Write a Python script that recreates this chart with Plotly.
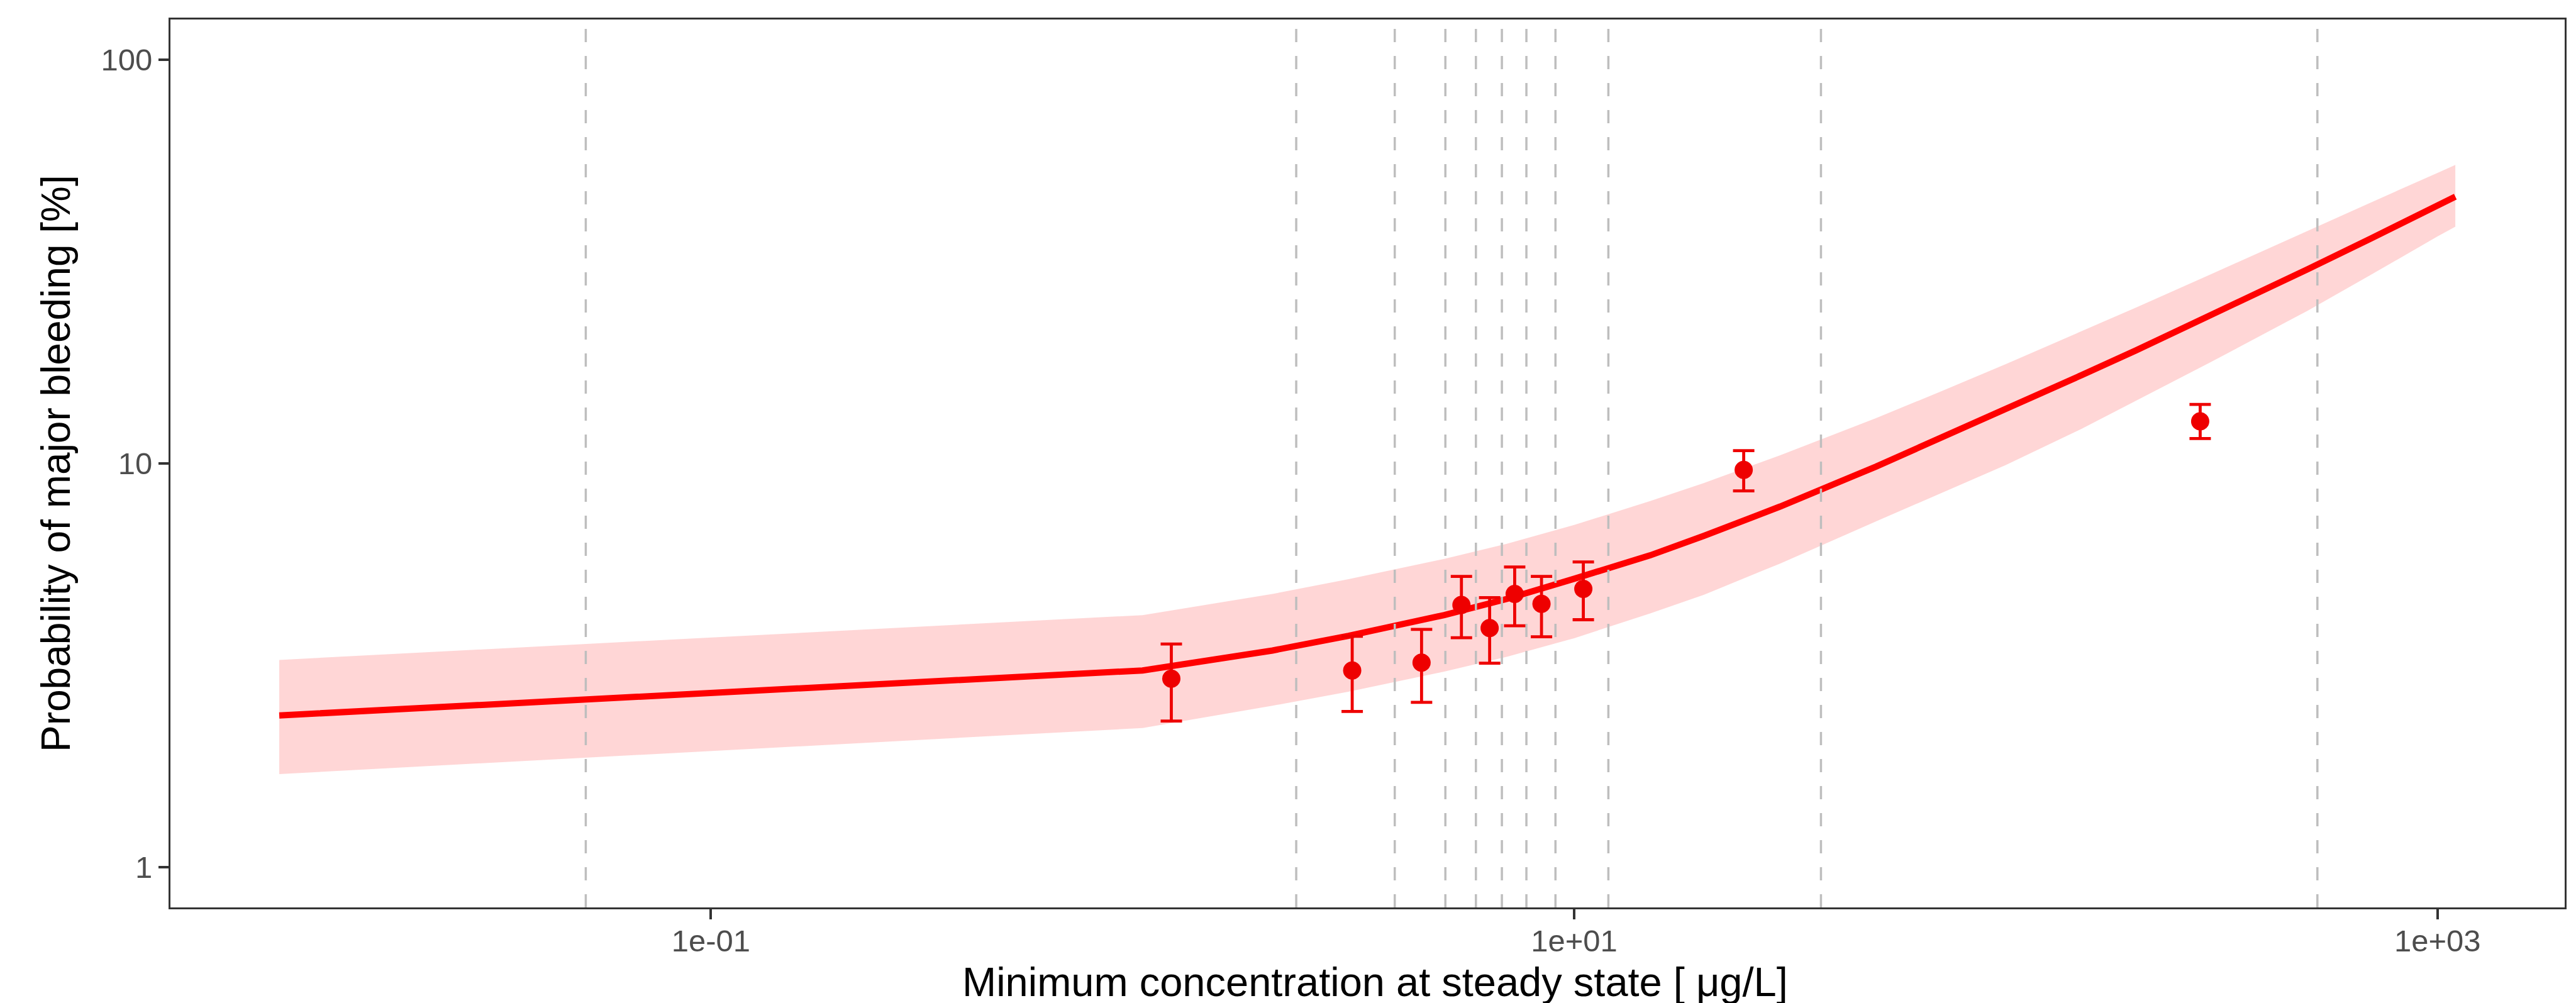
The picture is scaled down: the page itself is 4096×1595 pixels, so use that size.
import plotly.graph_objects as go

# ---- data ----
conc_grid = [0.01, 1, 2, 3, 5, 7, 10, 15, 20, 30, 50, 70, 100, 150, 200, 300, 500, 700, 1000, 1100]
pred_median = [2.375, 3.07, 3.44, 3.74, 4.21, 4.62, 5.18, 5.92, 6.62, 7.82, 9.82, 11.5, 13.63, 16.56, 19.05, 23.33, 30.27, 36.06, 43.55, 45.8]
pred_upper = [3.26, 4.21, 4.75, 5.17, 5.80, 6.33, 7.04, 8.07, 8.95, 10.48, 12.95, 15.01, 17.63, 21.25, 24.33, 29.49, 37.71, 44.3, 52.48, 54.9]
pred_lower = [1.70, 2.21, 2.51, 2.72, 3.05, 3.32, 3.69, 4.25, 4.73, 5.65, 7.18, 8.39, 9.91, 12.19, 14.29, 17.88, 23.9, 29.3, 36.5, 38.6]

obs_conc = [1.166, 3.06, 4.43, 5.48, 6.37, 7.28, 8.40, 10.5, 24.7, 282]
obs_prob = [2.93, 3.07, 3.21, 4.46, 3.91, 4.75, 4.49, 4.89, 9.64, 12.72]
obs_upper = [3.57, 3.73, 3.88, 5.25, 4.65, 5.54, 5.25, 5.70, 10.76, 14.0]
obs_lower = [2.30, 2.43, 2.56, 3.70, 3.20, 3.96, 3.72, 4.10, 8.55, 11.53]

vline_conc = [0.0513, 2.27, 3.84, 5.03, 5.92, 6.80, 7.75, 9.05, 12.0, 37.3, 527]

x_tickvals = [0.1, 10, 1000]
x_ticktext = ["1e-01", "1e+01", "1e+03"]
y_tickvals = [1, 10, 100]
y_ticktext = ["1", "10", "100"]

x_title = "Minimum concentration at steady state [ \u03bcg/L]"
y_title = "Probability of major bleeding [%]"

FONT = "Liberation Sans, Arial, sans-serif"

fig = go.Figure()

# ribbon
fig.add_trace(go.Scatter(x=conc_grid, y=pred_upper, mode="lines",
                         line=dict(width=0, color="rgba(0,0,0,0)"),
                         showlegend=False, hoverinfo="skip"))
fig.add_trace(go.Scatter(x=conc_grid, y=pred_lower, mode="lines",
                         line=dict(width=0, color="rgba(0,0,0,0)"),
                         fill="tonexty", fillcolor="rgba(255,0,0,0.16)",
                         showlegend=False, hoverinfo="skip"))
# median line
fig.add_trace(go.Scatter(x=conc_grid, y=pred_median, mode="lines",
                         line=dict(width=10, color="#FF0000"),
                         showlegend=False))

# vertical dashed lines
vx, vy = [], []
for v in vline_conc:
    vx += [v, v, None]
    vy += [0.5, 200, None]
fig.add_trace(go.Scatter(x=vx, y=vy, mode="lines",
                         line=dict(width=3.5, color="#BEBEBE", dash="21px,22px"),
                         showlegend=False, hoverinfo="skip"))

# observed points with error bars
err_plus = [u - p for u, p in zip(obs_upper, obs_prob)]
err_minus = [p - l for p, l in zip(obs_prob, obs_lower)]
fig.add_trace(go.Scatter(x=obs_conc, y=obs_prob, mode="markers",
                         marker=dict(size=29, color="#EE0000", line=dict(width=0)),
                         error_y=dict(type="data", array=err_plus, arrayminus=err_minus,
                                      visible=True, color="#EE0000", thickness=4.8, width=17),
                         showlegend=False))

axis_common = dict(
    showgrid=False, zeroline=False,
    showline=True, mirror=True, linecolor="#333333", linewidth=3,
    ticks="outside", ticklen=16, tickwidth=3.5, tickcolor="#333333",
    tickfont=dict(family=FONT, size=49, color="#4D4D4D"),
)

fig.update_xaxes(type="log", range=[-2.2521, 3.2947],
                 tickmode="array", tickvals=x_tickvals, ticktext=x_ticktext,
                 **axis_common)
fig.update_yaxes(type="log", range=[-0.1, 2.1],
                 tickmode="array", tickvals=y_tickvals, ticktext=y_ticktext,
                 **axis_common)
try:
    fig.update_xaxes(ticklabelstandoff=-8)
except Exception:
    pass

W, H = 4096, 1595
ml, mr, mt, mb = 263, 26, 23, 160
fig.update_layout(
    width=W, height=H,
    margin=dict(l=ml, r=mr, t=mt, b=mb, autoexpand=False),
    paper_bgcolor="white", plot_bgcolor="white",
    font=dict(family=FONT, color="black"),
    showlegend=False,
)

plot_w = W - ml - mr
plot_h = H - mt - mb
fig.add_annotation(text=x_title, xref="paper", yref="paper",
                   x=(2178 - ml) / plot_w, y=-(1553 - (H - mb)) / plot_h,
                   xanchor="center", yanchor="middle", showarrow=False,
                   font=dict(family=FONT, size=65, color="black"))
fig.add_annotation(text=y_title, xref="paper", yref="paper",
                   x=-(ml - 81) / plot_w, y=0.5,
                   xanchor="center", yanchor="middle", textangle=-90, showarrow=False,
                   font=dict(family=FONT, size=64, color="black"))

fig.write_html("out.html")
